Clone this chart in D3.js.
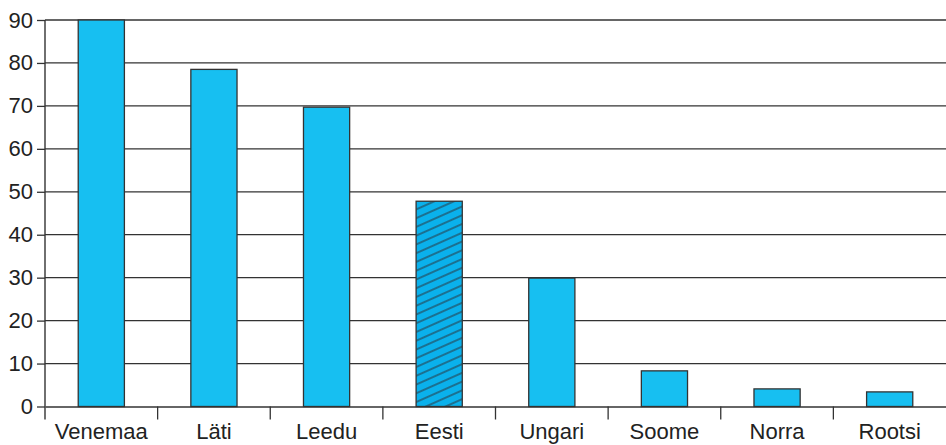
<!DOCTYPE html>
<html lang="et">
<head>
    <meta charset="UTF-8">
    <title>Tulpdiagramm</title>
    <script src="https://d3js.org/d3.v7.min.js"></script>
    <style>
        body { margin: 0; background: #fff; }
    </style>
</head>
<body>
<div id="chart"></div>
<script>
    const countries = ["Venemaa", "Läti", "Leedu", "Eesti", "Ungari", "Soome", "Norra", "Rootsi"];
    const values = [90, 78.5, 69.7, 47.8, 29.9, 8.3, 4.1, 3.4];
    const highlighted = ["Eesti"];
    const yTicks = [0, 10, 20, 30, 40, 50, 60, 70, 80, 90];

    const width = 946, height = 445;
    const margin = { top: 20, right: 0, bottom: 38.5, left: 45 };
    const innerW = width - margin.left - margin.right;
    const innerH = height - margin.top - margin.bottom;
    const font = "'Liberation Sans', Arial, sans-serif";

    const svg = d3.select("#chart").append("svg")
        .attr("width", width)
        .attr("height", height);

    // hatch pattern for the highlighted bar
    const pat = svg.append("defs").append("pattern")
        .attr("id", "hatch")
        .attr("patternUnits", "userSpaceOnUse")
        .attr("width", 20)
        .attr("height", 8)
        .attr("patternTransform", "rotate(-24)");
    pat.append("rect").attr("width", 20).attr("height", 8).attr("fill", "#0AB1EC");
    pat.append("line")
        .attr("x1", 0).attr("x2", 20).attr("y1", 4).attr("y2", 4)
        .attr("stroke", "#2a3a44").attr("stroke-width", 1.1);

    const g = svg.append("g").attr("transform", `translate(${margin.left},${margin.top})`);

    const x = d3.scaleBand().domain(countries).range([0, innerW]).padding(0);
    const xBar = d3.scaleBand().domain(countries).range([0, innerW])
        .paddingInner(0.59).paddingOuter(0.295);
    const y = d3.scaleLinear().domain([0, 90]).range([innerH, 0]);

    // grid lines
    g.append("g").selectAll("line")
        .data(yTicks.filter(d => d > 0))
        .join("line")
        .attr("x1", 0).attr("x2", innerW)
        .attr("y1", d => y(d)).attr("y2", d => y(d))
        .attr("stroke", "#333").attr("stroke-width", 1.3);

    // y axis
    const yAxis = g.append("g")
        .call(d3.axisLeft(y).tickValues(yTicks).tickSize(8).tickPadding(4));
    yAxis.attr("font-family", font).attr("font-size", 22);
    yAxis.select(".domain").remove();
    yAxis.selectAll("line").attr("stroke", "#333").attr("stroke-width", 1.3);
    yAxis.selectAll("text").attr("fill", "#222");

    g.append("line")
        .attr("x1", 0).attr("x2", 0).attr("y1", 0).attr("y2", innerH + 13)
        .attr("stroke", "#333").attr("stroke-width", 1.4);

    // bars
    g.append("g").selectAll("rect")
        .data(countries)
        .join("rect")
        .attr("x", d => xBar(d))
        .attr("width", xBar.bandwidth())
        .attr("y", (d, i) => y(values[i]))
        .attr("height", (d, i) => innerH - y(values[i]))
        .attr("fill", d => highlighted.includes(d) ? "url(#hatch)" : "#17BFF1")
        .attr("stroke", "#333")
        .attr("stroke-width", 1.3);

    // x axis
    const xAxis = g.append("g")
        .attr("transform", `translate(0,${innerH})`)
        .call(d3.axisBottom(x).tickSize(0).tickPadding(17));
    xAxis.attr("font-family", font).attr("font-size", 22);
    xAxis.select(".domain").attr("stroke", "#333").attr("stroke-width", 1.4);
    xAxis.selectAll("text").attr("fill", "#222");

    // category separators below the axis
    g.append("g").selectAll("line")
        .data(countries.slice(1))
        .join("line")
        .attr("x1", d => x(d)).attr("x2", d => x(d))
        .attr("y1", innerH).attr("y2", innerH + 13)
        .attr("stroke", "#333").attr("stroke-width", 1.3);
</script>
</body>
</html>
